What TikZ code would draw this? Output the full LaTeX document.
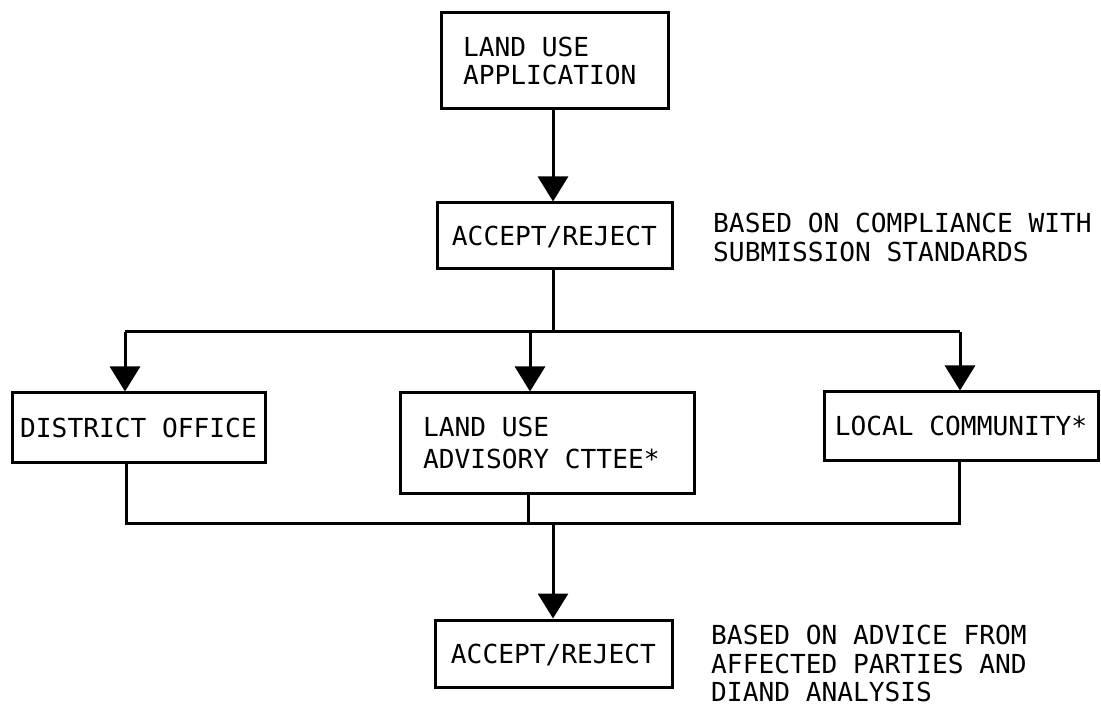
\documentclass[tikz,border=0pt]{standalone}
\usepackage{fontspec}
\newfontfamily\diagmono{DejaVu Sans Mono}
\usetikzlibrary{arrows.meta}
\begin{document}
\begin{tikzpicture}[x=1pt,y=-1pt,
  box/.style={draw, line width=3pt, rectangle, inner sep=0pt,
    font={\diagmono\fontsize{26.2}{28}\selectfont}},
  note/.style={anchor=north west, inner sep=0pt, align=left,
    font={\diagmono\fontsize{26.2}{28.5}\selectfont}},
  wire/.style={line width=3pt},
  arr/.style={line width=3pt, -{Triangle[width=30pt,length=25pt]}}]
\useasboundingbox (0,0) rectangle (1101,711);

% boxes
\node[box, minimum width=227pt, minimum height=96pt, text width=183pt, align=left,
      text height=19pt, text depth=28pt] (app) at (554.5,61) {\spaceskip=0pt\relax LAND USE\\APPLICATION};
\node[box, minimum width=235pt, minimum height=66pt, text height=19pt, text depth=0pt] (acc1) at (554.5,236) {ACCEPT/REJECT};
\node[box, minimum width=253pt, minimum height=69pt, text height=19pt, text depth=0pt] (dist) at (138.5,427.5) {DISTRICT OFFICE};
\node[box, minimum width=294pt, minimum height=100pt, text width=248pt, align=left,
      text height=19pt, text depth=32pt] (adv) at (547,443) {\spaceskip=0pt\relax LAND USE\\[4pt]ADVISORY CTTEE*};
\node[box, minimum width=274pt, minimum height=68pt, text height=19pt, text depth=0pt] (loc) at (961,426) {LOCAL COMMUNITY*};
\node[box, minimum width=237pt, minimum height=67pt, text height=19pt, text depth=0pt] (acc2) at (553.5,653.5) {ACCEPT/REJECT};

% notes
\node[note] (n1) at (713,213) {\spaceskip=0pt\relax BASED ON COMPLIANCE WITH\\SUBMISSION STANDARDS};
\node[note] (n2) at (711,625) {\spaceskip=0pt\relax BASED ON ADVICE FROM\\AFFECTED PARTIES AND\\DIAND ANALYSIS};

% junction points
\coordinate (split) at (553,332);
\coordinate (bl) at (125,332);
\coordinate (bm) at (530,332);
\coordinate (br) at (960,332);
\coordinate (ml) at (126,523);
\coordinate (mm) at (528,523);
\coordinate (mr) at (959,523);
\coordinate (merge) at (553,523);

% connectors
\draw[arr] (app.south -| split) -- (acc1.north -| split);
\draw[wire] (acc1.south -| split) -- (split);
\draw[wire] (bl) -- (br);
\draw[arr] (bl) -- (bl |- dist.north);
\draw[arr] (bm) -- (bm |- adv.north);
\draw[arr] (br) -- (br |- loc.north);
\draw[wire] (dist.south -| ml) -- (ml) -- (mr) -- (loc.south -| mr);
\draw[wire] (adv.south -| mm) -- (mm);
\draw[arr] (merge) -- (acc2.north -| merge);
\end{tikzpicture}
\end{document}
